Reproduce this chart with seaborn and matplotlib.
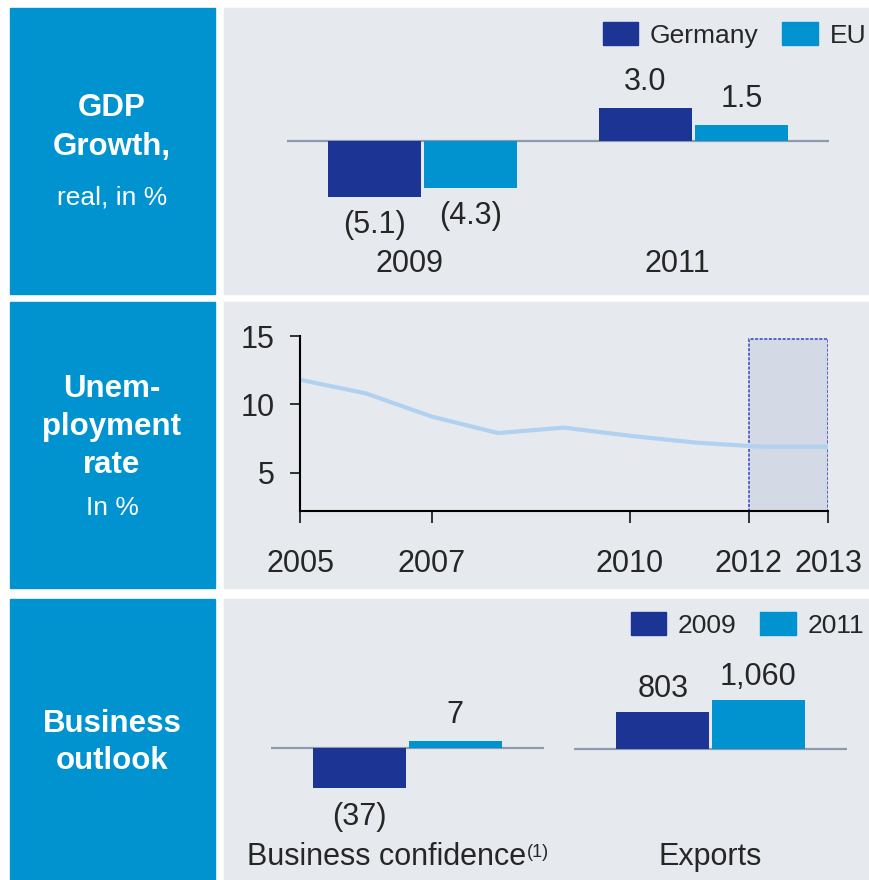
import pandas as pd
import matplotlib.pyplot as plt
import seaborn as sns
from matplotlib.patches import Rectangle, Patch

# Data
gdp_years = ["2009", "2011"]
gdp_germany = [-5.1, 3.0]
gdp_eu = [-4.3, 1.5]

unemp_years = [2005, 2006, 2007, 2008, 2009, 2010, 2011, 2012, 2013]
unemp_rate = [11.8, 10.8, 9.1, 7.9, 8.3, 7.7, 7.2, 6.9, 6.9]
unemp_ticks = [2005, 2007, 2010, 2011.8, 2013]
unemp_ticklabels = ["2005", "2007", "2010", "2012", "2013"]
forecast_start = 2011.8

outlook_metrics = ["Business confidence", "Exports"]
outlook_2009 = [-37, 803]
outlook_2011 = [7, 1060]

# Colors
NAVY = "#1C3494"
LIGHT = "#0093D0"
BOX = "#0093D0"
PANEL = "#E6E9EE"
BASE = "#8C9BB0"
LINE = "#B1D1F0"

sns.set_style("white")
plt.rcParams['font.family'] = ['Liberation Sans', 'DejaVu Sans']

W, H = 870, 880
fig = plt.figure(figsize=(W / 100, H / 100), dpi=100)


def px_axes(x0, y0, x1, y1):
    ax = fig.add_axes([x0 / W, 1 - y1 / H, (x1 - x0) / W, (y1 - y0) / H])
    ax.set_facecolor("none")
    return ax


def px_rect(x0, y0, x1, y1, color):
    fig.add_artist(Rectangle((x0 / W, 1 - y1 / H), (x1 - x0) / W, (y1 - y0) / H,
                             transform=fig.transFigure, color=color, zorder=-1))


def px_text(x, y, s, **kw):
    return fig.text(x / W, 1 - y / H, s, ha="center", va="center", **kw)


# Background panels
rows = [(8, 294), (302, 588), (599, 880)]
for y0, y1 in rows:
    px_rect(10, y0, 215, y1, BOX)
    px_rect(224, y0, 870, y1, PANEL)

# Left side titles
bold = dict(color="white", fontsize=22.5, fontweight="bold")
light = dict(color="white", fontsize=19)
px_text(112, 108, "GDP", **bold)
px_text(112, 147, "Growth,", **bold)
px_text(112, 197, "real, in %", **light)
px_text(112, 389, "Unem-", **bold)
px_text(112, 427, "ployment", **bold)
px_text(112, 465, "rate", **bold)
px_text(112, 508, "In %", **light)
px_text(112, 724, "Business", **bold)
px_text(112, 761, "outlook", **bold)


def label_bars(ax, decimals, pos_off, neg_off):
    # value labels centred a fixed distance beyond the bar end
    for c in ax.containers:
        for bar, v in zip(c, c.datavalues):
            s = f"{abs(v):,.{decimals}f}"
            s = f"({s})" if v < 0 else s
            off = pos_off if v >= 0 else -neg_off
            ax.annotate(s, xy=(bar.get_x() + bar.get_width() / 2, v),
                        xytext=(0, off), textcoords="offset points",
                        ha="center", va="center", fontsize=22)


def legend_at(ax, labels, x, y):
    handles = [Patch(color=NAVY), Patch(color=LIGHT)]
    ax.legend(handles, labels, loc="center left", bbox_to_anchor=(x / W, 1 - y / H),
              bbox_transform=fig.transFigure, ncol=2, frameon=False, fontsize=19,
              borderpad=0, borderaxespad=0, handlelength=1.33, handleheight=0.91,
              handletextpad=0.45, columnspacing=0.9)


# GDP growth
gdp_df = pd.DataFrame({
    "year": gdp_years * 2,
    "value": gdp_germany + gdp_eu,
    "region": ["Germany"] * 2 + ["EU"] * 2,
})
ax1 = px_axes(287, 30, 829, 250)
sns.barplot(data=gdp_df, x="year", y="value", hue="region", palette=[NAVY, LIGHT],
            saturation=1, width=0.71, gap=0.03, linewidth=0, legend=False, ax=ax1)
ax1.axhline(0, color=BASE, lw=1.6, zorder=0.5)
ax1.set_xlim(-0.5, 1.5)
ax1.set_ylim(-10.0, 10.18)
label_bars(ax1, 1, 18.7, 20.5)
ax1.axis("off")
px_text(410, 264, "2009", fontsize=22)
px_text(677, 264, "2011", fontsize=22)
legend_at(ax1, ["Germany", "EU"], 603, 35)

# Unemployment rate
ax2 = px_axes(300, 336, 828, 511)
unemp_df = pd.DataFrame({"year": unemp_years, "rate": unemp_rate})
ax2.add_patch(Rectangle((forecast_start, 2.2), 2013 - forecast_start, 12.6,
                        facecolor="#D3DAE6", edgecolor="#3246C0", lw=1.1,
                        linestyle=(0, (2, 1)), zorder=1))
sns.lineplot(data=unemp_df, x="year", y="rate", color=LINE, lw=3, ax=ax2, zorder=2)
ax2.set_xlim(2005, 2013)
ax2.set_ylim(2.2, 15)
ax2.set_xticks(unemp_ticks)
ax2.set_xticklabels(unemp_ticklabels)
ax2.set_yticks([5, 10, 15])
ax2.set_xlabel("")
ax2.set_ylabel("")
for side in ["top", "right"]:
    ax2.spines[side].set_visible(False)
for side in ["left", "bottom"]:
    ax2.spines[side].set_color("black")
    ax2.spines[side].set_linewidth(1.5)
ax2.tick_params(axis="x", length=8.6, width=1.1, pad=19, labelsize=22, color="black", bottom=True)
ax2.tick_params(axis="y", length=7.2, width=1.1, pad=11, labelsize=22, color="black", left=True)

# Business outlook
conf_df = pd.DataFrame({"metric": [outlook_metrics[0]] * 2,
                        "value": [outlook_2009[0], outlook_2011[0]],
                        "year": ["2009", "2011"]})
exp_df = pd.DataFrame({"metric": [outlook_metrics[1]] * 2,
                       "value": [outlook_2009[1], outlook_2011[1]],
                       "year": ["2009", "2011"]})

ax3 = px_axes(271, 700, 544, 800)
sns.barplot(data=conf_df, x="metric", y="value", hue="year", palette=[NAVY, LIGHT],
            saturation=1, width=0.7, gap=0.03, linewidth=0, legend=False, ax=ax3)
ax3.axhline(0, color=BASE, lw=1.6, zorder=0.5)
ax3.set_xlim(-0.5, 0.5)
ax3.set_ylim(-48.6, 44.9)
label_bars(ax3, 0, 18.7, 21)
ax3.axis("off")

ax4 = px_axes(574, 650, 847, 760)
sns.barplot(data=exp_df, x="metric", y="value", hue="year", palette=[NAVY, LIGHT],
            saturation=1, width=0.7, gap=0.03, linewidth=0, legend=False, ax=ax4)
ax4.axhline(0, color=BASE, lw=1.6, zorder=0.5)
ax4.set_xlim(-0.5, 0.5)
ax4.set_ylim(-236.6, 2129)
label_bars(ax4, 0, 16.5, 16.5)
ax4.axis("off")

main = px_text(387, 857, outlook_metrics[0], fontsize=22)
ax4.annotate("(1)", xy=(1, 0.95), xycoords=main, ha="left", va="top", fontsize=13)
px_text(710, 857, outlook_metrics[1], fontsize=22)
legend_at(ax4, ["2009", "2011"], 631, 625)

fig.savefig("out.png", dpi=100)
